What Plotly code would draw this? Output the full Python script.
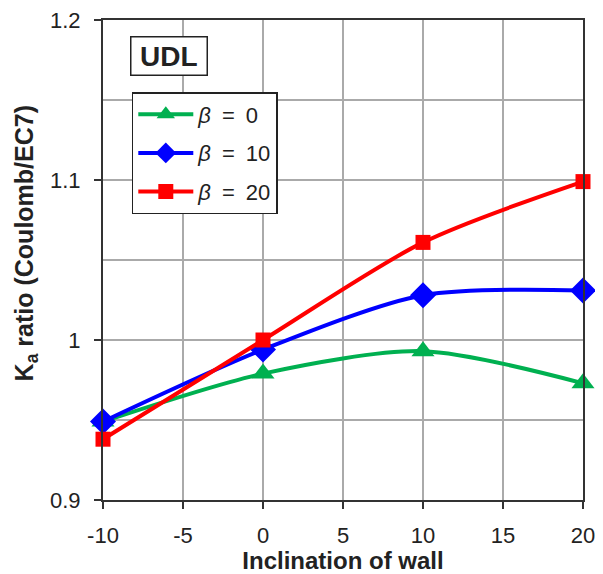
import plotly.graph_objects as go

inclination = [-10, 0, 10, 20]
beta0 = [0.949, 0.979, 0.993, 0.973]
beta10 = [0.949, 0.994, 1.028, 1.031]
beta20 = [0.938, 1.000, 1.061, 1.099]

x_ticks = [-10, -5, 0, 5, 10, 15, 20]
x_tick_text = ["-10", "-5", "0", "5", "10", "15", "20"]
y_ticks = [0.9, 1.0, 1.1, 1.2]
y_tick_text = ["0.9", "1", "1.1", "1.2"]

series = [
    ("<i>β</i>\u2002=\u20020", beta0, "#00B050", "triangle-up", 20),
    ("<i>β</i>\u2002=\u200210", beta10, "#0000FF", "diamond", 20),
    ("<i>β</i>\u2002=\u200220", beta20, "#FF0000", "square", 15),
]

FONT = "Liberation Sans, Arial, sans-serif"
TXT = "#222222"

fig = go.Figure()
for i, (name, vals, color, sym, size) in enumerate(series):
    fig.add_trace(go.Scatter(
        x=inclination, y=vals, name=name, mode="lines+markers",
        line=dict(color=color, width=4, shape="spline", smoothing=0.8),
        marker=dict(symbol=sym, size=size, color=color),
        legendgroup=str(i),
        cliponaxis=False,
    ))

# body has an 8px default margin in the page, so the figure is offset by 8px
fig.update_layout(
    width=595, height=566,
    margin=dict(l=95, r=20, t=12, b=74, autoexpand=False),
    paper_bgcolor="white", plot_bgcolor="white",
    font=dict(family=FONT, size=22, color=TXT),
    showlegend=True,
    legend=dict(
        x=0.06, y=0.85, xanchor="left", yanchor="top",
        bgcolor="white", bordercolor=TXT, borderwidth=1.5,
        font=dict(family=FONT, size=22, color=TXT),
        tracegroupgap=7, itemwidth=55,
    ),
    annotations=[
        dict(
            text="<b>\u2009UDL\u2009</b>", x=0.1385, y=0.925, xref="paper", yref="paper",
            xanchor="center", yanchor="middle", showarrow=False,
            font=dict(family=FONT, size=28, color=TXT),
            bordercolor=TXT, borderwidth=1.5, borderpad=3, bgcolor="white",
        ),
        dict(
            text="<b>K<sub>a</sub> ratio (Coulomb/EC7)</b>", x=-0.160, y=0.535,
            xref="paper", yref="paper", xanchor="center", yanchor="middle",
            textangle=-90, showarrow=False,
            font=dict(family=FONT, size=25, color=TXT),
        ),
    ],
)

fig.update_xaxes(
    range=[-10, 20], tickmode="array", tickvals=x_ticks, ticktext=x_tick_text,
    showgrid=True, gridcolor="#AAAAAA", gridwidth=1.5,
    showline=True, linecolor="#333", linewidth=2, mirror=True,
    ticks="outside", ticklen=7, tickwidth=2, tickcolor="#333",
    ticklabelstandoff=8, ticklabeloverflow="allow",
    zeroline=False, automargin=False,
    title=dict(text="<b>Inclination of wall</b>", font=dict(family=FONT, size=24, color=TXT), standoff=4),
    tickfont=dict(family=FONT, size=22, color=TXT),
)
fig.update_yaxes(
    range=[0.9, 1.2], tickmode="array", tickvals=y_ticks, ticktext=y_tick_text,
    showgrid=True, gridcolor="#AAAAAA", gridwidth=1.5,
    minor=dict(dtick=0.05, tick0=0.9, showgrid=True, gridcolor="#AAAAAA", gridwidth=1.5, ticks=""),
    showline=True, linecolor="#333", linewidth=2, mirror=True,
    ticks="outside", ticklen=7, tickwidth=2, tickcolor="#333",
    ticklabelstandoff=9, ticklabeloverflow="allow",
    zeroline=False, automargin=False,
    tickfont=dict(family=FONT, size=22, color=TXT),
)

fig.write_html("out.html")
